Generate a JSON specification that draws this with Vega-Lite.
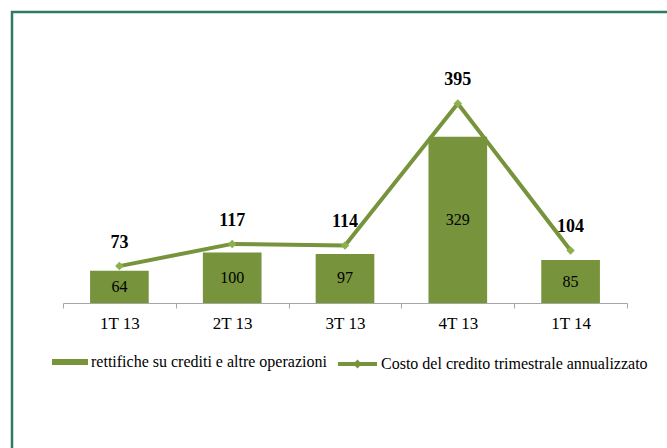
{
  "$schema": "https://vega.github.io/schema/vega-lite/v6.json",
  "width": 657,
  "height": 438,
  "autosize": "none",
  "padding": {"left": 12, "top": 12, "right": -2, "bottom": -2},
  "background": "white",
  "config": {"view": {"stroke": "#2e7b62", "strokeWidth": 2.5}, "font": "Times New Roman"},
  "data": {"values": [
    {"q": "1T 13", "rett": 64, "costo": 73},
    {"q": "2T 13", "rett": 100, "costo": 117},
    {"q": "3T 13", "rett": 97, "costo": 114},
    {"q": "4T 13", "rett": 329, "costo": 395},
    {"q": "1T 14", "rett": 85, "costo": 104}
  ]},
  "encoding": {
    "x": {
      "field": "q", "type": "nominal", "sort": null,
      "scale": {"range": [51, 615], "paddingInner": 0, "paddingOuter": 0},
      "axis": {"title": null, "orient": "bottom", "offset": -147, "domainColor": "#a6a6a6", "domainWidth": 1, "tickColor": "#a6a6a6", "tickSize": 5, "tickBand": "extent", "labelFont": "Times New Roman", "labelFontSize": 17, "labelColor": "black", "labelPadding": 7, "labelAngle": 0, "grid": false}
    }
  },
  "layer": [
    {
      "mark": {"type": "bar", "width": {"band": 0.52}},
      "encoding": {
        "y": {"field": "rett", "type": "quantitative", "scale": {"domain": [-291, 576], "nice": false, "zero": false}, "axis": null},
        "y2": {"datum": 0},
        "fill": {"datum": "rettifiche su crediti e altre operazioni", "type": "nominal", "scale": {"range": ["#77933c"]},
          "legend": {"title": null, "orient": "none", "legendX": 40, "legendY": 332, "symbolType": "M-1,-0.16H1V0.16H-1Z", "symbolSize": 1296, "symbolStrokeWidth": 0, "labelFont": "Times New Roman", "labelFontSize": 16, "labelColor": "black", "labelOffset": 3, "labelLimit": 0, "padding": 0}}
      }
    },
    {
      "mark": {"type": "text", "fontSize": 16, "color": "black", "baseline": "middle", "font": "Times New Roman"},
      "encoding": {
        "y": {"field": "rett", "type": "quantitative", "stack": "zero", "bandPosition": 0.5},
        "text": {"field": "rett"}
      }
    },
    {
      "mark": {"type": "line", "strokeWidth": 4},
      "encoding": {
        "y": {"field": "costo", "type": "quantitative"},
        "stroke": {"datum": "Costo del credito trimestrale annualizzato", "type": "nominal", "scale": {"range": ["#77933c"]},
          "legend": {"title": null, "orient": "none", "legendX": 324, "legendY": 330.5, "symbolType": "M-1,0H1M0,-0.08L0.08,0L0,0.08L-0.08,0Z", "symbolSize": 1521, "symbolStrokeWidth": 4, "symbolFillColor": "#8fb04e", "labelFont": "Times New Roman", "labelFontSize": 16, "labelColor": "black", "labelOffset": 2, "labelLimit": 0, "padding": 0}}
      }
    },
    {
      "mark": {"type": "point", "shape": "diamond", "filled": true, "size": 72, "color": "#8fb04e", "opacity": 1},
      "encoding": {"y": {"field": "costo", "type": "quantitative"}}
    },
    {
      "mark": {"type": "text", "fontWeight": "bold", "fontSize": 18, "dy": -23, "baseline": "middle", "color": "black", "font": "Times New Roman"},
      "encoding": {
        "y": {"field": "costo", "type": "quantitative"},
        "text": {"field": "costo"}
      }
    }
  ]
}
